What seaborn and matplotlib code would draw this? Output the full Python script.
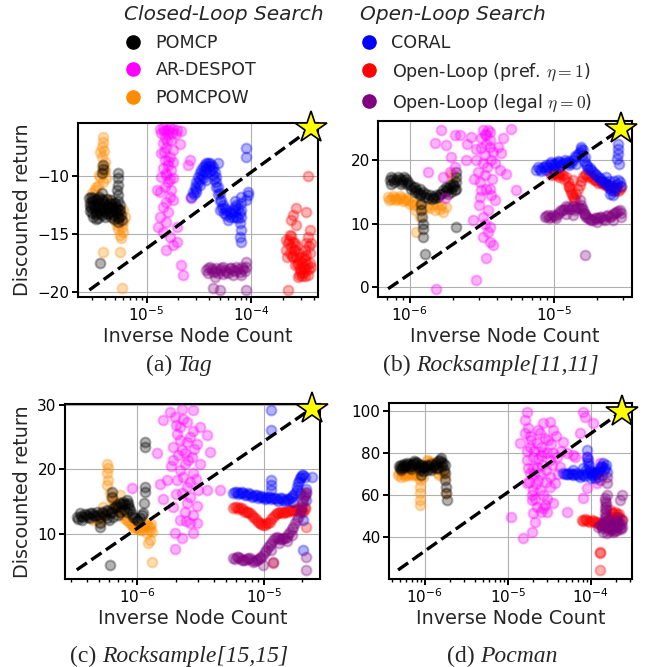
import matplotlib
matplotlib.use("Agg")
import numpy as np
import pandas as pd
import matplotlib.pyplot as plt
from matplotlib.lines import Line2D
import seaborn as sns

sns.set_theme(style="ticks", rc={
    "axes.edgecolor": "black",
    "axes.linewidth": 1.5,
    "xtick.major.width": 1.4,
    "ytick.major.width": 1.4,
    "xtick.minor.width": 1.0,
    "xtick.major.size": 4,
    "ytick.major.size": 4,
    "xtick.minor.size": 2.2,
    "xtick.color": "black",
    "ytick.color": "black",
    "grid.color": "#b0b0b0",
    "grid.linewidth": 0.8,
})
plt.rcParams["font.family"] = ["DejaVu Sans"]
plt.rcParams["mathtext.fontset"] = "cm"

# ---- data: (inverse node count, discounted return) per method and domain ----
TAG_POMCPOW = [
    (3.85e-6, -6.66), (3.85e-6, -7.10), (3.71e-6, -7.50), (3.90e-6, -7.90), (3.78e-6, -8.40),
    (3.99e-6, -8.80), (3.71e-6, -9.20), (3.90e-6, -9.70), (3.58e-6, -10.1), (3.85e-6, -10.5),
    (3.45e-6, -10.9), (3.20e-6, -11.2), (2.98e-6, -11.5), (4.15e-6, -12.0), (4.46e-6, -12.4),
    (4.81e-6, -12.7), (5.17e-6, -12.9), (5.36e-6, -13.5), (5.56e-6, -13.9), (5.77e-6, -14.4),
    (5.98e-6, -14.8), (5.56e-6, -15.1), (5.17e-6, -14.2), (6.20e-6, -13.5), (5.98e-6, -12.9),
    (4.99e-6, -13.8), (3.85e-6, -16.5), (5.56e-6, -16.5), (5.77e-6, -19.66),
    (3.60e-6, -8.00), (4.00e-6, -9.50), (3.50e-6, -9.90), (4.10e-6, -10.2), (3.30e-6, -11.0),
    (4.30e-6, -12.6), (5.30e-6, -14.6), (5.70e-6, -15.3), (6.00e-6, -14.0), (4.60e-6, -13.2),
]
TAG_POMCP = [
    (2.84e-6, -11.94), (2.88e-6, -12.37), (2.92e-6, -12.80), (2.98e-6, -13.23), (3.09e-6, -13.51),
    (3.20e-6, -12.09), (3.32e-6, -12.66), (3.32e-6, -13.09), (3.45e-6, -13.66), (3.53e-6, -11.80),
    (3.58e-6, -12.37), (3.58e-6, -12.94), (3.71e-6, -13.37), (3.71e-6, -11.51), (3.85e-6, -12.09),
    (3.85e-6, -12.66), (3.99e-6, -12.94), (4.15e-6, -12.51), (4.15e-6, -13.23), (4.30e-6, -12.80),
    (4.46e-6, -12.37), (4.46e-6, -13.09), (4.63e-6, -12.66), (4.81e-6, -12.94), (4.81e-6, -13.37),
    (4.99e-6, -12.37), (5.17e-6, -12.80), (5.17e-6, -13.23), (5.36e-6, -13.66), (5.48e-6, -12.94),
    (5.56e-6, -12.51), (5.64e-6, -13.37), (5.36e-6, -13.94), (5.77e-6, -13.80),
    (3.00e-6, -12.20), (3.15e-6, -12.80), (3.40e-6, -12.30), (3.90e-6, -13.00), (4.30e-6, -13.30),
    (4.60e-6, -12.10), (5.00e-6, -13.00), (3.10e-6, -11.90), (2.90e-6, -12.60), (3.60e-6, -13.20),
    (2.90e-6, -13.00), (3.05e-6, -12.50), (3.25e-6, -13.30), (3.35e-6, -12.00), (3.50e-6, -12.70),
    (3.65e-6, -12.00), (3.75e-6, -12.80), (3.95e-6, -12.30), (4.05e-6, -13.50), (4.20e-6, -12.00),
    (4.40e-6, -12.70), (4.55e-6, -13.50), (4.70e-6, -12.40), (4.90e-6, -13.70), (5.05e-6, -12.60),
    (5.30e-6, -12.20), (5.45e-6, -13.50), (5.60e-6, -12.90), (3.30e-6, -13.70), (2.95e-6, -11.80),
    (5.36e-6, -9.80), (5.36e-6, -10.23), (5.36e-6, -10.80), (5.25e-6, -11.23), (5.36e-6, -11.66),
    (3.80e-6, -9.09), (3.80e-6, -9.46), (3.74e-6, -9.80), (3.58e-6, -17.51),
]
TAG_DESPOT = [
    (1.34e-5, -6.03), (1.44e-5, -5.94), (1.55e-5, -6.09), (1.67e-5, -5.94), (1.80e-5, -6.03),
    (1.94e-5, -6.09), (2.16e-5, -6.14), (1.39e-5, -6.37), (1.61e-5, -6.43), (1.50e-5, -6.80),
    (1.73e-5, -6.94), (1.44e-5, -7.23), (2.08e-5, -7.30), (1.55e-5, -7.66), (1.80e-5, -7.80),
    (1.39e-5, -8.09), (1.67e-5, -8.37), (1.50e-5, -8.66), (1.80e-5, -8.80), (1.61e-5, -9.09),
    (1.44e-5, -9.37), (1.73e-5, -9.51), (1.55e-5, -9.80), (1.39e-5, -10.09), (1.80e-5, -10.23),
    (1.61e-5, -10.51), (1.50e-5, -10.94), (1.73e-5, -11.23), (1.34e-5, -11.37), (1.67e-5, -11.80),
    (1.55e-5, -12.23), (1.80e-5, -12.09), (1.44e-5, -12.66), (1.61e-5, -13.09), (1.34e-5, -13.51),
    (1.55e-5, -13.94), (1.29e-5, -14.37), (1.44e-5, -14.80), (1.67e-5, -15.23), (1.94e-5, -15.66),
    (1.80e-5, -15.94), (1.55e-5, -16.37), (2.59e-5, -8.66), (2.50e-5, -9.09), (2.69e-5, -11.94),
    (2.16e-5, -17.66), (2.24e-5, -18.51), (1.25e-5, -11.23), (1.94e-5, -14.37),
    (1.47e-5, -6.20), (1.60e-5, -6.10), (1.75e-5, -6.30), (1.90e-5, -6.40), (1.58e-5, -7.00),
    (1.48e-5, -8.00), (1.62e-5, -8.70), (1.52e-5, -9.90), (1.66e-5, -10.3),
]
TAG_CORAL = [
    (2.69e-5, -11.80), (2.79e-5, -11.37), (2.89e-5, -10.94), (3.00e-5, -10.51), (3.11e-5, -10.09),
    (3.23e-5, -9.80), (3.35e-5, -9.51), (3.48e-5, -9.29), (3.61e-5, -9.09), (3.74e-5, -8.94),
    (3.88e-5, -8.89), (4.03e-5, -8.94), (4.18e-5, -9.09), (4.34e-5, -9.23), (4.50e-5, -9.66),
    (4.60e-5, -10.09), (4.67e-5, -10.51), (4.84e-5, -10.94), (5.02e-5, -11.51), (5.21e-5, -12.09),
    (5.40e-5, -12.51), (5.61e-5, -12.80), (5.81e-5, -12.94), (6.25e-5, -13.09), (6.73e-5, -12.94),
    (6.98e-5, -12.66), (7.24e-5, -12.51), (7.51e-5, -12.80), (7.79e-5, -13.23), (7.24e-5, -13.51),
    (6.73e-5, -13.51), (6.25e-5, -13.51), (5.81e-5, -13.37), (5.02e-5, -12.94),
    (3.00e-5, -11.37), (3.23e-5, -10.80), (3.48e-5, -10.23), (3.74e-5, -9.80), (4.03e-5, -9.51),
    (4.34e-5, -9.94), (3.74e-5, -10.37),
    (2.85e-5, -11.60), (2.95e-5, -11.10), (3.10e-5, -10.60), (3.25e-5, -10.30), (3.40e-5, -9.90),
    (3.55e-5, -9.60), (3.70e-5, -9.30), (3.95e-5, -9.20), (4.20e-5, -9.50), (4.45e-5, -10.30),
    (4.60e-5, -11.00), (4.80e-5, -11.60), (5.00e-5, -12.20), (5.30e-5, -12.80), (5.50e-5, -13.20),
    (6.00e-5, -13.80), (6.50e-5, -13.30), (7.00e-5, -13.10), (7.50e-5, -13.60), (7.00e-5, -12.20),
    (8.08e-5, -11.80), (8.08e-5, -12.37), (8.08e-5, -12.94), (8.08e-5, -13.51), (7.85e-5, -14.09),
    (8.08e-5, -14.66), (7.85e-5, -15.23), (8.08e-5, -15.66),
    (9.02e-5, -7.66), (9.02e-5, -8.37), (9.36e-5, -11.66), (9.36e-5, -11.37), (9.02e-5, -12.09),
    (4.84e-5, -8.94),
]
TAG_PREF = [
    (2.18e-4, -15.51), (2.26e-4, -15.80), (2.34e-4, -15.09), (2.43e-4, -16.09), (2.52e-4, -15.66),
    (2.61e-4, -16.37), (2.71e-4, -16.94), (2.81e-4, -17.51), (2.92e-4, -18.09), (3.03e-4, -18.37),
    (3.14e-4, -17.80), (3.26e-4, -17.23), (3.38e-4, -18.09), (3.51e-4, -18.51), (3.64e-4, -17.51),
    (3.26e-4, -16.37), (3.38e-4, -15.80), (3.51e-4, -15.23), (3.64e-4, -16.66), (3.03e-4, -16.94),
    (2.81e-4, -18.66), (2.61e-4, -17.66), (2.34e-4, -16.66), (2.18e-4, -16.37), (3.64e-4, -14.66),
    (3.51e-4, -10.00), (2.71e-4, -12.80), (3.38e-4, -13.09), (2.43e-4, -13.80), (2.52e-4, -13.37),
    (2.71e-4, -14.23), (2.26e-4, -19.80), (3.77e-4, -15.80), (3.77e-4, -17.80),
    (2.90e-4, -17.20), (3.10e-4, -18.60), (2.70e-4, -16.00), (3.20e-4, -17.00), (2.50e-4, -17.00),
    (2.30e-4, -15.50), (2.40e-4, -15.20), (2.55e-4, -16.40), (2.65e-4, -15.80), (2.75e-4, -17.60),
    (2.85e-4, -16.60), (2.95e-4, -17.90), (3.05e-4, -17.50), (3.15e-4, -18.30), (3.25e-4, -17.90),
    (3.35e-4, -16.80), (3.45e-4, -17.60), (3.55e-4, -18.00), (3.60e-4, -16.00), (2.20e-4, -17.00),
    (2.45e-4, -16.90), (2.90e-4, -18.50), (3.30e-4, -18.60),
]
TAG_LEGAL = [
    (3.74e-5, -18.09), (4.03e-5, -17.80), (4.34e-5, -18.23), (4.67e-5, -17.94), (5.02e-5, -18.09),
    (5.40e-5, -17.80), (5.81e-5, -18.23), (6.25e-5, -17.94), (6.73e-5, -18.09), (7.24e-5, -17.80),
    (7.79e-5, -18.23), (8.39e-5, -18.03), (9.02e-5, -17.80), (9.02e-5, -17.37), (4.50e-5, -18.66),
    (6.73e-5, -18.51), (4.34e-5, -19.66), (5.02e-5, -19.80), (9.02e-5, -19.80), (3.88e-5, -18.37),
    (5.40e-5, -18.40), (8.00e-5, -18.50),
    (3.90e-5, -17.90), (4.20e-5, -18.00), (4.50e-5, -18.20), (4.80e-5, -18.30), (5.20e-5, -17.90),
    (5.60e-5, -18.10), (6.00e-5, -18.30), (6.50e-5, -17.90), (7.00e-5, -18.20), (7.50e-5, -18.00),
    (8.20e-5, -17.80), (8.70e-5, -18.20),
]

R11_POMCPOW = [
    (7.08e-7, 14.21), (7.46e-7, 13.95), (7.87e-7, 14.10), (8.30e-7, 13.95), (8.76e-7, 14.10),
    (9.24e-7, 13.79), (9.74e-7, 13.68), (1.03e-6, 13.42), (1.11e-6, 13.16), (1.17e-6, 12.90),
    (1.30e-6, 12.63), (1.45e-6, 12.90), (1.61e-6, 12.37), (1.70e-6, 11.84), (1.79e-6, 12.63),
    (1.53e-6, 13.16), (1.11e-6, 8.68), (1.99e-6, 17.37), (1.94e-6, 17.89), (1.08e-6, 12.11),
    (1.17e-6, 11.05),
    (7.20e-7, 13.80), (7.70e-7, 14.40), (8.10e-7, 13.70), (8.50e-7, 14.30), (9.00e-7, 13.60),
    (9.50e-7, 14.00), (1.00e-6, 13.10), (1.07e-6, 12.90), (1.24e-6, 12.30), (1.36e-6, 12.40),
    (1.50e-6, 12.10), (1.65e-6, 12.90),
]
R11_POMCP = [
    (7.26e-7, 16.84), (7.67e-7, 17.11), (8.09e-7, 16.84), (8.53e-7, 17.11), (9.00e-7, 16.84),
    (9.48e-7, 17.11), (9.74e-7, 16.58), (1.00e-6, 16.05), (1.05e-6, 15.79), (1.11e-6, 15.26),
    (1.17e-6, 15.53), (1.24e-6, 15.00), (1.30e-6, 14.74), (1.38e-6, 14.47), (1.45e-6, 14.21),
    (1.53e-6, 14.47), (1.61e-6, 14.74), (1.70e-6, 15.26), (1.79e-6, 15.79), (1.89e-6, 16.05),
    (1.99e-6, 16.32), (2.10e-6, 16.58), (2.10e-6, 17.37), (2.05e-6, 15.26), (1.94e-6, 15.00),
    (1.84e-6, 14.74), (7.46e-7, 16.32), (8.76e-7, 16.32), (1.17e-6, 14.47), (1.08e-6, 15.00),
    (7.40e-7, 17.30), (7.80e-7, 16.50), (8.30e-7, 17.40), (8.80e-7, 16.60), (9.20e-7, 17.40),
    (9.60e-7, 16.20), (1.02e-6, 15.50), (1.08e-6, 15.70), (1.14e-6, 14.90), (1.20e-6, 14.60),
    (1.27e-6, 14.20), (1.34e-6, 14.00), (1.42e-6, 13.90), (1.50e-6, 14.00), (1.58e-6, 14.20),
    (1.66e-6, 14.70), (1.75e-6, 15.00), (1.85e-6, 15.60), (1.95e-6, 15.80), (2.02e-6, 16.00),
    (2.08e-6, 15.50), (1.80e-6, 15.30),
    (1.20e-6, 13.16), (1.20e-6, 12.11), (1.22e-6, 11.05), (1.24e-6, 10.00), (1.24e-6, 9.21),
    (1.24e-6, 7.89), (1.27e-6, 5.26), (2.10e-6, 9.47), (2.10e-6, 18.16),
]
R11_DESPOT = [
    (1.49e-6, 22.8), (1.66e-6, 24.7), (1.79e-6, 22.4), (1.94e-6, 20.5), (2.05e-6, 24.0),
    (1.89e-6, 18.2), (1.34e-6, 18.2), (1.70e-6, 17.4), (2.05e-6, 19.0), (2.22e-6, 24.0),
    (2.47e-6, 20.0), (2.67e-6, 23.7), (2.90e-6, 21.8), (2.90e-6, 20.0), (2.97e-6, 18.2),
    (3.05e-6, 16.6), (3.14e-6, 15.3), (3.22e-6, 24.7), (3.31e-6, 24.2), (3.40e-6, 22.6),
    (3.49e-6, 24.7), (3.58e-6, 22.1), (3.68e-6, 20.0), (3.78e-6, 21.3), (3.22e-6, 19.5),
    (3.31e-6, 17.6), (3.40e-6, 15.5), (3.58e-6, 15.5), (3.88e-6, 13.7), (4.09e-6, 22.1),
    (4.32e-6, 21.1), (4.20e-6, 18.4), (4.68e-6, 17.9), (5.06e-6, 25.0), (5.48e-6, 15.3),
    (3.49e-6, 12.1), (3.22e-6, 11.1), (2.75e-6, 10.5), (3.49e-6, 8.7), (3.22e-6, 7.9),
    (3.58e-6, 7.1), (3.78e-6, 6.6), (3.40e-6, 4.5), (2.90e-6, 1.1), (1.53e-6, -0.3),
    (3.05e-6, 14.2), (3.68e-6, 14.5), (1.75e-6, 14.0), (3.40e-6, 24.0), (3.58e-6, 24.5),
    (3.14e-6, 23.5),
    (3.30e-6, 20.8), (3.60e-6, 23.2), (3.10e-6, 22.0), (3.45e-6, 19.0), (2.80e-6, 17.0),
    (3.70e-6, 17.0), (3.90e-6, 19.5), (4.40e-6, 23.5), (2.50e-6, 22.5), (3.00e-6, 13.0),
    (3.30e-6, 10.0), (3.60e-6, 9.5),
]
R11_CORAL = [
    (7.55e-6, 18.42), (7.96e-6, 18.68), (8.39e-6, 18.95), (8.85e-6, 19.21), (9.33e-6, 19.37),
    (9.84e-6, 19.47), (1.04e-5, 19.58), (1.09e-5, 19.74), (1.15e-5, 19.58), (1.22e-5, 19.74),
    (1.28e-5, 19.89), (1.35e-5, 20.10), (1.43e-5, 20.53), (1.51e-5, 21.32), (1.55e-5, 22.10),
    (1.59e-5, 21.58), (1.63e-5, 20.53), (1.67e-5, 19.47), (1.72e-5, 18.68), (1.81e-5, 18.42),
    (1.91e-5, 17.89), (2.02e-5, 17.37), (2.13e-5, 16.84), (2.25e-5, 16.58), (2.37e-5, 16.05),
    (2.50e-5, 15.26), (2.56e-5, 14.47), (2.70e-5, 15.79), (2.78e-5, 16.84), (2.85e-5, 16.58),
    (8.85e-6, 18.42), (9.84e-6, 18.68), (1.09e-5, 18.95), (2.31e-5, 17.37), (1.28e-5, 19.21),
    (1.43e-5, 19.47), (2.43e-5, 14.74),
    (7.70e-6, 18.90), (8.10e-6, 18.30), (8.60e-6, 19.00), (9.10e-6, 18.90), (9.60e-6, 19.80),
    (1.01e-5, 19.20), (1.06e-5, 19.90), (1.12e-5, 19.20), (1.19e-5, 20.00), (1.25e-5, 19.50),
    (1.32e-5, 19.60), (1.39e-5, 20.60), (1.47e-5, 21.00), (1.53e-5, 21.80), (1.57e-5, 20.90),
    (1.62e-5, 19.90), (1.70e-5, 19.10), (1.77e-5, 18.80), (1.86e-5, 18.10), (1.96e-5, 17.60),
    (2.07e-5, 17.20), (2.19e-5, 16.60), (2.31e-5, 16.30), (2.43e-5, 15.60), (2.62e-5, 15.20),
    (2.75e-5, 16.20), (2.60e-5, 16.80), (2.40e-5, 16.80),
    (2.78e-5, 22.63), (2.78e-5, 21.84), (2.78e-5, 21.05), (2.75e-5, 20.26), (2.80e-5, 19.47),
    (2.93e-5, 16.00),
]
R11_PREF = [
    (9.33e-6, 18.16), (9.84e-6, 17.89), (1.04e-5, 17.89), (1.09e-5, 18.16), (1.15e-5, 17.63),
    (1.22e-5, 17.37), (1.25e-5, 16.58), (1.28e-5, 15.79), (1.32e-5, 15.00), (1.35e-5, 14.21),
    (1.39e-5, 13.68), (1.43e-5, 14.74), (1.51e-5, 16.05), (1.59e-5, 17.37), (1.67e-5, 17.89),
    (1.77e-5, 17.63), (1.86e-5, 17.11), (1.96e-5, 16.84), (2.07e-5, 16.58), (2.18e-5, 16.32),
    (2.31e-5, 16.05), (2.43e-5, 16.05), (2.56e-5, 15.79), (2.70e-5, 15.26), (2.85e-5, 15.53),
    (2.93e-5, 15.79), (1.09e-5, 17.37), (1.35e-5, 16.84),
    (9.60e-6, 17.60), (1.01e-5, 18.20), (1.06e-5, 17.60), (1.12e-5, 17.90), (1.18e-5, 17.00),
    (1.26e-5, 16.00), (1.30e-5, 15.40), (1.33e-5, 14.60), (1.37e-5, 14.00), (1.47e-5, 15.40),
    (1.55e-5, 16.70), (1.63e-5, 17.60), (1.72e-5, 17.40), (1.82e-5, 17.30), (1.91e-5, 16.90),
    (2.02e-5, 16.40), (2.13e-5, 16.50), (2.25e-5, 16.20), (2.37e-5, 15.80), (2.50e-5, 15.90),
    (2.63e-5, 15.50), (2.78e-5, 15.20),
]
R11_LEGAL = [
    (8.62e-6, 11.05), (9.09e-6, 11.32), (9.58e-6, 11.05), (1.01e-5, 11.16), (1.06e-5, 11.58),
    (1.12e-5, 12.11), (1.18e-5, 12.37), (1.25e-5, 12.63), (1.32e-5, 12.37), (1.39e-5, 12.11),
    (1.47e-5, 12.63), (1.55e-5, 12.89), (1.59e-5, 12.11), (1.63e-5, 11.58), (1.67e-5, 11.05),
    (1.77e-5, 10.79), (1.86e-5, 10.53), (1.96e-5, 10.95), (2.07e-5, 11.05), (2.18e-5, 10.79),
    (2.31e-5, 11.16), (2.43e-5, 11.05), (2.56e-5, 11.58), (2.70e-5, 11.84), (2.85e-5, 12.11),
    (2.93e-5, 11.05), (2.56e-5, 10.53), (1.51e-5, 13.68), (1.63e-5, 5.00), (1.22e-5, 11.58),
    (1.35e-5, 11.32),
    (8.80e-6, 11.20), (9.30e-6, 10.90), (9.80e-6, 11.30), (1.04e-5, 10.90), (1.09e-5, 11.80),
    (1.15e-5, 12.20), (1.21e-5, 12.70), (1.28e-5, 12.30), (1.36e-5, 12.80), (1.43e-5, 12.40),
    (1.51e-5, 12.50), (1.57e-5, 12.50), (1.61e-5, 11.70), (1.65e-5, 11.30), (1.72e-5, 10.90),
    (1.81e-5, 10.50), (1.91e-5, 10.80), (2.02e-5, 10.90), (2.12e-5, 11.00), (2.25e-5, 10.60),
    (2.37e-5, 11.30), (2.50e-5, 11.20), (2.63e-5, 11.70), (2.78e-5, 12.00), (2.90e-5, 11.60),
    (2.00e-5, 10.30),
]

R15_POMCPOW = [
    (4.50e-7, 12.21), (5.08e-7, 11.95), (5.73e-7, 20.92), (5.91e-7, 20.15), (5.80e-7, 19.38),
    (5.91e-7, 18.36), (5.73e-7, 17.59), (6.09e-7, 16.31), (6.47e-7, 15.28), (6.87e-7, 14.26),
    (7.30e-7, 13.23), (8.24e-7, 12.21), (9.30e-7, 11.18), (9.88e-7, 10.92), (1.05e-6, 10.67),
    (1.11e-6, 11.18), (1.18e-6, 11.69), (1.26e-6, 11.18), (1.30e-6, 10.41), (1.26e-6, 9.13),
    (1.22e-6, 8.62), (1.30e-6, 5.79), (8.75e-7, 11.69), (7.76e-7, 12.97), (5.40e-7, 14.26),
    (7.30e-7, 16.05),
    (4.80e-7, 12.30), (5.30e-7, 12.60), (6.20e-7, 15.60), (6.70e-7, 14.80), (7.10e-7, 13.80),
    (7.90e-7, 12.50), (8.50e-7, 12.00), (9.00e-7, 11.50), (9.60e-7, 11.00), (1.02e-6, 11.00),
    (1.08e-6, 10.60), (1.14e-6, 11.40), (1.21e-6, 11.40), (1.25e-6, 10.60), (1.28e-6, 11.60),
    (1.20e-6, 10.20),
]
R15_POMCP = [
    (3.33e-7, 12.72), (3.54e-7, 13.23), (3.76e-7, 12.72), (3.99e-7, 12.97), (4.24e-7, 12.46),
    (4.50e-7, 12.97), (4.78e-7, 13.49), (5.08e-7, 12.72), (5.40e-7, 13.23), (5.73e-7, 13.74),
    (6.09e-7, 13.23), (6.47e-7, 14.00), (6.87e-7, 14.51), (7.30e-7, 14.77), (7.76e-7, 15.03),
    (8.24e-7, 15.28), (8.49e-7, 14.51), (8.75e-7, 13.74), (9.30e-7, 12.72), (9.88e-7, 12.21),
    (1.05e-6, 12.46), (1.11e-6, 13.23), (8.24e-7, 13.49), (7.30e-7, 13.49), (5.08e-7, 11.69),
    (4.24e-7, 13.23), (3.65e-7, 12.21), (5.73e-7, 12.46), (6.47e-7, 12.72),
    (3.40e-7, 12.40), (3.60e-7, 12.80), (3.85e-7, 13.10), (4.10e-7, 12.60), (4.40e-7, 13.30),
    (4.65e-7, 12.80), (4.90e-7, 13.00), (5.25e-7, 13.50), (5.55e-7, 12.90), (5.90e-7, 13.60),
    (6.30e-7, 13.40), (6.70e-7, 14.20), (7.10e-7, 14.20), (7.50e-7, 14.60), (7.95e-7, 14.70),
    (8.40e-7, 14.90), (8.60e-7, 14.00), (9.00e-7, 13.20), (9.60e-7, 12.50), (1.02e-6, 12.00),
    (1.08e-6, 12.90), (6.00e-7, 12.20), (7.00e-7, 13.00), (7.90e-7, 13.80),
    (1.15e-6, 24.26), (1.15e-6, 23.49), (1.15e-6, 17.33), (1.15e-6, 16.56), (1.13e-6, 14.77),
    (6.28e-7, 16.56), (6.28e-7, 15.79), (6.09e-7, 5.28), (5.08e-7, 11.18),
]
R15_DESPOT = [
    (1.81e-6, 28.9), (2.23e-6, 29.4), (2.76e-6, 29.1), (1.60e-6, 27.6), (1.98e-6, 28.1),
    (2.44e-6, 27.3), (3.11e-6, 26.6), (2.76e-6, 26.0), (3.51e-6, 25.3), (2.17e-6, 24.5),
    (1.92e-6, 23.5), (2.44e-6, 24.3), (2.93e-6, 24.0), (1.42e-6, 22.5), (2.23e-6, 23.0),
    (2.68e-6, 22.0), (3.73e-6, 22.7), (1.92e-6, 21.4), (2.37e-6, 20.9), (3.11e-6, 20.9),
    (2.17e-6, 19.9), (2.76e-6, 19.4), (2.04e-6, 18.4), (2.44e-6, 17.3), (3.02e-6, 16.8),
    (1.51e-6, 17.8), (1.60e-6, 15.5), (2.23e-6, 16.3), (2.60e-6, 15.8), (3.51e-6, 16.8),
    (4.48e-6, 16.8), (1.92e-6, 14.2), (2.37e-6, 13.5), (2.76e-6, 13.0), (2.17e-6, 12.2),
    (2.60e-6, 11.7), (2.93e-6, 11.7), (1.98e-6, 10.2), (2.23e-6, 9.4), (2.76e-6, 10.2),
    (1.98e-6, 7.8), (1.70e-6, 18.4), (2.44e-6, 14.8), (2.93e-6, 14.3), (9.02e-7, 17.1),
    (2.17e-6, 26.5), (2.37e-6, 22.5), (2.04e-6, 25.5),
    (2.30e-6, 27.8), (2.60e-6, 25.0), (2.00e-6, 26.8), (2.50e-6, 21.5), (2.10e-6, 22.2),
    (2.80e-6, 23.2), (2.30e-6, 18.8), (2.60e-6, 18.0), (2.00e-6, 16.2), (2.40e-6, 12.0),
    (2.90e-6, 18.6), (1.85e-6, 20.5),
]
R15_CORAL = [
    (5.70e-6, 16.31), (6.05e-6, 16.56), (6.43e-6, 16.41), (6.84e-6, 16.31), (7.26e-6, 16.05),
    (7.71e-6, 16.21), (8.19e-6, 15.90), (8.70e-6, 16.05), (9.24e-6, 15.79), (9.82e-6, 15.69),
    (1.04e-5, 15.54), (1.11e-5, 15.79), (1.18e-5, 15.54), (1.25e-5, 15.38), (1.33e-5, 15.54),
    (1.41e-5, 15.28), (1.50e-5, 15.38), (1.59e-5, 15.54), (1.69e-5, 16.05), (1.80e-5, 16.82),
    (1.85e-5, 17.85), (1.91e-5, 18.62), (1.97e-5, 19.13), (2.09e-5, 18.87), (2.15e-5, 15.28),
    (5.85e-6, 16.50), (6.25e-6, 16.20), (6.65e-6, 16.60), (7.05e-6, 16.10), (7.50e-6, 16.40),
    (7.95e-6, 15.80), (8.45e-6, 16.10), (8.95e-6, 15.60), (9.50e-6, 15.90), (1.01e-5, 15.40),
    (1.07e-5, 15.80), (1.14e-5, 15.40), (1.21e-5, 15.60), (1.29e-5, 15.20), (1.37e-5, 15.60),
    (1.45e-5, 15.10), (1.54e-5, 15.30), (1.64e-5, 15.70), (1.74e-5, 16.40), (1.82e-5, 17.30),
    (1.88e-5, 18.20), (1.94e-5, 18.90), (2.02e-5, 19.20), (2.12e-5, 17.00),
    (2.03e-5, 12.21), (2.03e-5, 7.59), (1.14e-5, 29.13), (1.14e-5, 26.05), (1.14e-5, 18.36),
    (1.14e-5, 17.59), (1.14e-5, 16.82), (1.69e-5, 15.03), (1.91e-5, 16.31), (2.36e-5, 18.90),
]
R15_PREF = [
    (5.70e-6, 14.00), (6.05e-6, 14.26), (6.43e-6, 14.00), (6.84e-6, 13.74), (7.26e-6, 13.49),
    (7.71e-6, 13.23), (8.19e-6, 12.72), (8.70e-6, 12.21), (9.24e-6, 11.69), (9.82e-6, 11.44),
    (1.04e-5, 11.69), (1.11e-5, 11.95), (1.18e-5, 12.72), (1.25e-5, 13.23), (1.33e-5, 13.49),
    (1.41e-5, 13.33), (1.50e-5, 13.49), (1.59e-5, 13.74), (1.69e-5, 13.64), (1.80e-5, 14.00),
    (1.91e-5, 13.74), (2.03e-5, 13.49), (2.15e-5, 11.18), (1.18e-5, 5.54), (2.09e-5, 14.26),
    (5.85e-6, 14.20), (6.25e-6, 13.90), (6.65e-6, 14.10), (7.05e-6, 13.50), (7.50e-6, 13.40),
    (7.95e-6, 12.90), (8.45e-6, 12.50), (8.95e-6, 11.90), (9.50e-6, 11.60), (1.01e-5, 11.50),
    (1.07e-5, 11.80), (1.14e-5, 12.30), (1.21e-5, 12.90), (1.29e-5, 13.30), (1.37e-5, 13.40),
    (1.45e-5, 13.50), (1.54e-5, 13.60), (1.64e-5, 13.70), (1.74e-5, 13.80), (1.85e-5, 13.90),
    (1.97e-5, 13.60), (2.10e-5, 13.90),
]
R15_LEGAL = [
    (5.70e-6, 6.31), (6.05e-6, 6.56), (6.43e-6, 6.31), (6.84e-6, 6.05), (7.26e-6, 6.15),
    (7.71e-6, 6.31), (8.19e-6, 5.79), (8.70e-6, 6.05), (9.24e-6, 6.31), (9.82e-6, 6.82),
    (1.04e-5, 7.59), (1.11e-5, 8.36), (1.18e-5, 9.13), (1.25e-5, 9.64), (1.33e-5, 9.23),
    (1.41e-5, 9.38), (1.50e-5, 9.64), (1.59e-5, 10.41), (1.69e-5, 11.18), (1.80e-5, 12.21),
    (1.91e-5, 13.23), (1.97e-5, 14.26), (2.03e-5, 15.28), (2.09e-5, 16.05), (2.15e-5, 16.56),
    (5.85e-6, 6.20), (6.25e-6, 6.50), (6.65e-6, 6.10), (7.05e-6, 6.00), (7.50e-6, 6.40),
    (7.95e-6, 6.00), (8.45e-6, 5.90), (8.95e-6, 6.20), (9.50e-6, 6.50), (1.01e-5, 7.20),
    (1.07e-5, 8.00), (1.14e-5, 8.70), (1.21e-5, 9.40), (1.29e-5, 9.40), (1.37e-5, 9.30),
    (1.45e-5, 9.50), (1.54e-5, 10.00), (1.64e-5, 10.80), (1.74e-5, 11.70), (1.85e-5, 12.70),
    (1.94e-5, 13.70), (2.00e-5, 14.80), (2.06e-5, 15.70), (2.12e-5, 16.30), (1.50e-5, 8.90),
    (1.30e-5, 8.70), (1.65e-5, 9.90),
    (2.15e-5, 6.56), (2.15e-5, 4.51), (1.18e-5, 5.79), (1.14e-5, 7.59), (9.82e-6, 5.28),
]

PM_POMCPOW = [
    (4.76e-7, 69.45), (5.23e-7, 68.66), (5.73e-7, 68.97), (6.29e-7, 69.45), (6.90e-7, 69.93),
    (7.57e-7, 70.25), (8.71e-7, 67.06), (8.87e-7, 63.88), (8.71e-7, 60.70), (8.87e-7, 57.52),
    (8.71e-7, 55.13), (1.05e-6, 76.61), (1.15e-6, 75.02), (1.26e-6, 74.22), (1.45e-6, 70.25),
    (1.59e-6, 71.84), (1.74e-6, 68.66), (1.79e-6, 60.70), (9.55e-7, 68.66), (5.47e-7, 71.04),
    (4.90e-7, 70.20), (5.50e-7, 69.70), (6.00e-7, 70.00), (6.60e-7, 70.40), (7.20e-7, 69.60),
    (8.00e-7, 69.30), (8.40e-7, 68.50), (1.10e-6, 76.00), (1.20e-6, 75.80), (1.65e-6, 70.50),
    (1.50e-6, 69.20),
]
PM_POMCP = [
    (4.99e-7, 72.63), (5.47e-7, 73.75), (6.00e-7, 74.22), (6.59e-7, 73.43), (7.23e-7, 75.02),
    (7.93e-7, 75.82), (8.71e-7, 74.22), (9.55e-7, 73.11), (1.05e-6, 74.22), (1.15e-6, 72.63),
    (1.26e-6, 73.43), (1.38e-6, 75.02), (1.52e-6, 76.61), (1.59e-6, 77.41), (1.66e-6, 75.02),
    (5.23e-7, 74.22), (6.90e-7, 72.16), (8.71e-7, 71.84), (9.12e-7, 69.45), (1.38e-6, 72.63),
    (1.05e-6, 71.84),
    (4.90e-7, 73.50), (5.10e-7, 72.00), (5.35e-7, 73.00), (5.60e-7, 74.80), (5.85e-7, 73.40),
    (6.15e-7, 75.20), (6.45e-7, 74.50), (6.75e-7, 73.80), (7.05e-7, 74.20), (7.40e-7, 76.00),
    (7.70e-7, 74.60), (8.10e-7, 75.00), (8.50e-7, 73.20), (8.90e-7, 72.80), (9.30e-7, 74.00),
    (1.00e-6, 73.20), (1.10e-6, 73.80), (1.20e-6, 74.50), (1.32e-6, 74.00), (1.45e-6, 76.00),
    (1.55e-6, 75.50), (1.63e-6, 73.50), (1.70e-6, 72.00), (1.76e-6, 74.00), (1.20e-6, 72.00),
    (9.50e-7, 71.50), (1.45e-6, 73.00),
    (1.74e-6, 70.25), (1.74e-6, 67.06), (1.79e-6, 63.88), (1.79e-6, 60.70), (1.83e-6, 57.52),
]
PM_DESPOT = [
    (1.69e-5, 99.7), (1.61e-5, 95.7), (1.61e-5, 89.3), (2.68e-5, 94.1), (3.23e-5, 94.9),
    (2.44e-5, 89.3), (3.54e-5, 90.9), (4.68e-5, 85.4), (1.85e-5, 83.0), (2.23e-5, 84.6),
    (3.08e-5, 86.2), (2.03e-5, 78.2), (2.68e-5, 80.6), (3.54e-5, 79.8), (5.13e-5, 79.8),
    (6.18e-5, 79.0), (1.69e-5, 76.6), (2.23e-5, 73.4), (3.23e-5, 76.6), (4.26e-5, 73.4),
    (1.85e-5, 70.2), (2.34e-5, 67.1), (3.23e-5, 68.7), (1.69e-5, 65.5), (2.44e-5, 62.3),
    (3.23e-5, 63.9), (2.03e-5, 62.3), (3.54e-5, 55.9), (2.23e-5, 54.3), (2.68e-5, 53.5),
    (2.94e-5, 51.9), (2.03e-5, 51.2), (2.13e-5, 47.2), (1.94e-5, 42.4), (1.54e-5, 39.2),
    (1.11e-5, 49.6), (5.13e-5, 51.9), (8.15e-5, 99.7), (8.55e-5, 97.3), (1.08e-4, 94.1),
    (7.43e-5, 89.3), (8.95e-5, 78.2), (8.15e-5, 58.3), (8.95e-5, 63.1), (1.18e-4, 65.5),
    (1.30e-4, 75.0), (6.47e-5, 78.2), (1.40e-5, 84.6), (1.94e-5, 57.5), (3.71e-5, 65.5),
    (2.44e-5, 70.0), (1.85e-5, 88.0),
    (1.75e-5, 92.0), (1.90e-5, 86.0), (2.10e-5, 81.0), (2.30e-5, 77.0), (2.50e-5, 83.0),
    (2.80e-5, 87.0), (3.00e-5, 80.0), (2.60e-5, 74.0), (2.10e-5, 70.0), (1.80e-5, 66.0),
    (2.00e-5, 73.0), (2.90e-5, 72.0), (3.40e-5, 74.0), (3.90e-5, 78.0), (4.40e-5, 81.0),
    (2.20e-5, 65.0), (2.70e-5, 60.0), (3.00e-5, 58.0), (2.50e-5, 52.0), (2.80e-5, 55.0),
    (1.95e-5, 60.0), (3.30e-5, 84.0), (3.80e-5, 88.0), (2.35e-5, 91.0), (1.70e-5, 81.0),
    (2.90e-5, 66.0), (4.00e-5, 70.0), (2.15e-5, 58.0), (1.78e-5, 73.0), (2.55e-5, 79.0),
]
PM_CORAL = [
    (4.68e-5, 70.25), (5.13e-5, 69.93), (5.57e-5, 70.57), (6.18e-5, 69.45), (6.78e-5, 70.25),
    (7.43e-5, 68.66), (8.15e-5, 69.45), (8.95e-5, 78.20), (8.95e-5, 81.38), (9.37e-5, 75.02),
    (9.82e-5, 71.84), (1.03e-4, 69.45), (1.08e-4, 70.25), (1.18e-4, 71.04), (1.30e-4, 72.63),
    (1.42e-4, 75.02), (1.49e-4, 72.63), (1.56e-4, 71.04), (1.36e-4, 69.45), (1.24e-4, 68.66),
    (1.13e-4, 67.86), (8.15e-5, 72.63), (6.18e-5, 71.84),
    (4.90e-5, 69.70), (5.35e-5, 70.00), (5.90e-5, 70.00), (6.50e-5, 69.80), (7.10e-5, 69.60),
    (7.80e-5, 69.80), (8.50e-5, 69.00), (9.10e-5, 70.20), (9.60e-5, 73.50), (1.00e-4, 70.80),
    (1.06e-4, 69.30), (1.11e-4, 71.00), (1.15e-4, 70.00), (1.21e-4, 70.20), (1.27e-4, 71.40),
    (1.33e-4, 73.50), (1.39e-4, 73.20), (1.45e-4, 71.80), (1.52e-4, 74.00), (9.20e-5, 76.50),
    (8.90e-5, 72.00), (1.00e-4, 68.00),
]
PM_PREF = [
    (7.78e-5, 47.97), (8.55e-5, 48.29), (9.37e-5, 47.65), (1.03e-4, 47.97), (1.13e-4, 47.18),
    (1.24e-4, 46.38), (1.36e-4, 45.58), (1.49e-4, 46.38), (1.63e-4, 47.97), (1.79e-4, 51.15),
    (1.97e-4, 51.95), (2.16e-4, 49.56), (2.37e-4, 47.97), (1.56e-4, 44.79), (1.30e-4, 32.86),
    (1.30e-4, 32.06), (1.30e-4, 24.10), (1.71e-4, 52.74),
    (8.10e-5, 47.50), (8.90e-5, 48.00), (9.80e-5, 47.20), (1.08e-4, 47.60), (1.18e-4, 46.80),
    (1.29e-4, 46.00), (1.42e-4, 45.80), (1.56e-4, 47.30), (1.70e-4, 49.50), (1.87e-4, 51.50),
    (2.06e-4, 50.80), (2.26e-4, 48.80), (1.95e-4, 48.50), (2.20e-4, 51.00),
]
PM_LEGAL = [
    (1.24e-4, 44.79), (1.36e-4, 43.99), (1.42e-4, 46.38), (1.49e-4, 48.77), (1.49e-4, 51.15),
    (1.49e-4, 53.54), (1.52e-4, 55.93), (1.49e-4, 58.31), (1.56e-4, 59.90), (1.63e-4, 46.38),
    (1.71e-4, 43.99), (1.79e-4, 43.20), (1.88e-4, 44.79), (1.97e-4, 47.18), (2.06e-4, 49.56),
    (2.16e-4, 46.38), (2.26e-4, 43.99), (2.37e-4, 44.79), (2.37e-4, 47.97), (2.37e-4, 59.90),
    (2.26e-4, 57.52), (1.88e-4, 42.40), (1.56e-4, 41.61), (1.56e-4, 68.66), (1.56e-4, 65.47),
    (1.30e-4, 67.06), (1.71e-4, 47.97), (2.06e-4, 43.20), (1.42e-4, 42.40),
    (1.30e-4, 45.50), (1.39e-4, 45.00), (1.45e-4, 47.50), (1.52e-4, 50.00), (1.52e-4, 52.50),
    (1.52e-4, 54.80), (1.49e-4, 57.00), (1.60e-4, 44.00), (1.67e-4, 45.20), (1.75e-4, 45.00),
    (1.84e-4, 46.00), (1.92e-4, 45.50), (2.01e-4, 45.00), (2.11e-4, 44.50), (2.21e-4, 45.50),
    (2.31e-4, 46.20), (2.34e-4, 43.50), (1.82e-4, 43.80), (2.10e-4, 47.80), (1.65e-4, 42.80),
    (1.95e-4, 42.60),
]

METHODS = ["POMCP", "AR-DESPOT", "POMCPOW", "CORAL",
           r"Open-Loop (pref. $\eta=1$)", r"Open-Loop (legal $\eta=0$)"]
COLORS = ["black", "magenta", "darkorange", "blue", "red", "purple"]
DRAW_ORDER = ["POMCPOW", "POMCP", "AR-DESPOT", METHODS[4], "CORAL", METHODS[5]]

W, H = 646, 667
fig = plt.figure(figsize=(W / 100, H / 100), dpi=100)


def px_rect(l, t, r, b):
    return [l / W, 1 - b / H, (r - l) / W, (b - t) / H]


def make_frame(series):
    rows = []
    for name, pts in series.items():
        for x, y in pts:
            rows.append({"method": name, "x": x, "y": y})
    return pd.DataFrame(rows)


panels = [
    dict(rect=(78, 123, 318, 297), xlim=(2.21e-6, 4.37e-4), ylim=(-20.4, -5.48),
         yticks=[-20, -15, -10], ylabel=True, cap=("(a)", "Tag"), cap_xy=(146, 371),
         data={"POMCP": TAG_POMCP, "AR-DESPOT": TAG_DESPOT, "POMCPOW": TAG_POMCPOW,
               "CORAL": TAG_CORAL, METHODS[4]: TAG_PREF, METHODS[5]: TAG_LEGAL}),
    dict(rect=(378, 121, 632, 297), xlim=(6.03e-7, 3.47e-5), ylim=(-1.6, 26.2),
         yticks=[0, 10, 20], ylabel=False, cap=("(b)", "Rocksample[11,11]"), cap_xy=(383, 371),
         data={"POMCP": R11_POMCP, "AR-DESPOT": R11_DESPOT, "POMCPOW": R11_POMCPOW,
               "CORAL": R11_CORAL, METHODS[4]: R11_PREF, METHODS[5]: R11_LEGAL}),
    dict(rect=(65, 404, 320, 579), xlim=(2.69e-7, 2.75e-5), ylim=(3.1, 30.1),
         yticks=[10, 20, 30], ylabel=True, cap=("(c)", "Rocksample[15,15]"), cap_xy=(70, 662),
         data={"POMCP": R15_POMCP, "AR-DESPOT": R15_DESPOT, "POMCPOW": R15_POMCPOW,
               "CORAL": R15_CORAL, METHODS[4]: R15_PREF, METHODS[5]: R15_LEGAL}),
    dict(rect=(389, 403, 632, 579), xlim=(3.7e-7, 3.16e-4), ylim=(19.8, 103.8),
         yticks=[40, 60, 80, 100], ylabel=False, cap=("(d)", "Pocman"), cap_xy=(447, 662),
         data={"POMCP": PM_POMCP, "AR-DESPOT": PM_DESPOT, "POMCPOW": PM_POMCPOW,
               "CORAL": PM_CORAL, METHODS[4]: PM_PREF, METHODS[5]: PM_LEGAL}),
]

palette = dict(zip(METHODS, COLORS))

for p in panels:
    ax = fig.add_axes(px_rect(*p["rect"]))
    ax.set_xscale("log")
    df = make_frame(p["data"])
    for m in DRAW_ORDER:
        sub = df[df["method"] == m]
        sns.scatterplot(data=sub, x="x", y="y", ax=ax, color=palette[m],
                        edgecolor=palette[m], alpha=0.3, s=50, linewidth=1.5,
                        legend=False, zorder=2)
    # ideal direction: from worst/slowest corner to best/fastest corner
    x0, x1 = df["x"].min(), df["x"].max()
    y0, y1 = df["y"].min(), df["y"].max()
    ax.plot([x0, x1], [y0, y1], ls="--", color="black", lw=2.4, zorder=5)
    ax.plot([x1], [y1], marker="*", ms=24, mfc="yellow", mec="black", mew=1.2,
            clip_on=False, zorder=6)
    ax.set_xlim(*p["xlim"])
    ax.set_ylim(*p["ylim"])
    ax.set_yticks(p["yticks"])
    ax.grid(True, which="major")
    ax.tick_params(axis="both", which="major", labelsize=11, pad=2)
    ax.set_xlabel("Inverse Node Count", fontsize=13.8, labelpad=2)
    if p["ylabel"]:
        ax.set_ylabel("Discounted return", fontsize=13.8, labelpad=4)
    else:
        ax.set_ylabel("")
    for s in ax.spines.values():
        s.set_visible(True)

    cx, cy = p["cap_xy"]
    t = fig.text(cx / W, 1 - cy / H, p["cap"][0], family="Liberation Serif",
                 fontsize=17, ha="left", va="baseline")
    ax.annotate(p["cap"][1], xy=(1, 0), xycoords=t, xytext=(4, 0),
                textcoords="offset points", family="Liberation Serif",
                fontstyle="italic", fontsize=17, ha="left", va="bottom",
                annotation_clip=False)

handles = [Line2D([], [], ls="", marker="o", ms=9.5, color=c, mec=c) for c in COLORS]
common = dict(frameon=False, fontsize=12.6, handlelength=1.0, handletextpad=0.8,
              labelspacing=0.55, borderpad=0, borderaxespad=0, alignment="left",
              title_fontproperties={"style": "italic", "size": 14.5}, loc="upper left")
fig.legend(handles=handles[:3], labels=METHODS[:3], title="Closed-Loop Search",
           bbox_to_anchor=(124 / W, 1 - 5 / H), **common)
fig.legend(handles=handles[3:], labels=METHODS[3:], title="Open-Loop Search",
           bbox_to_anchor=(360 / W, 1 - 5 / H), **common)

fig.savefig("out.png", dpi=100)
